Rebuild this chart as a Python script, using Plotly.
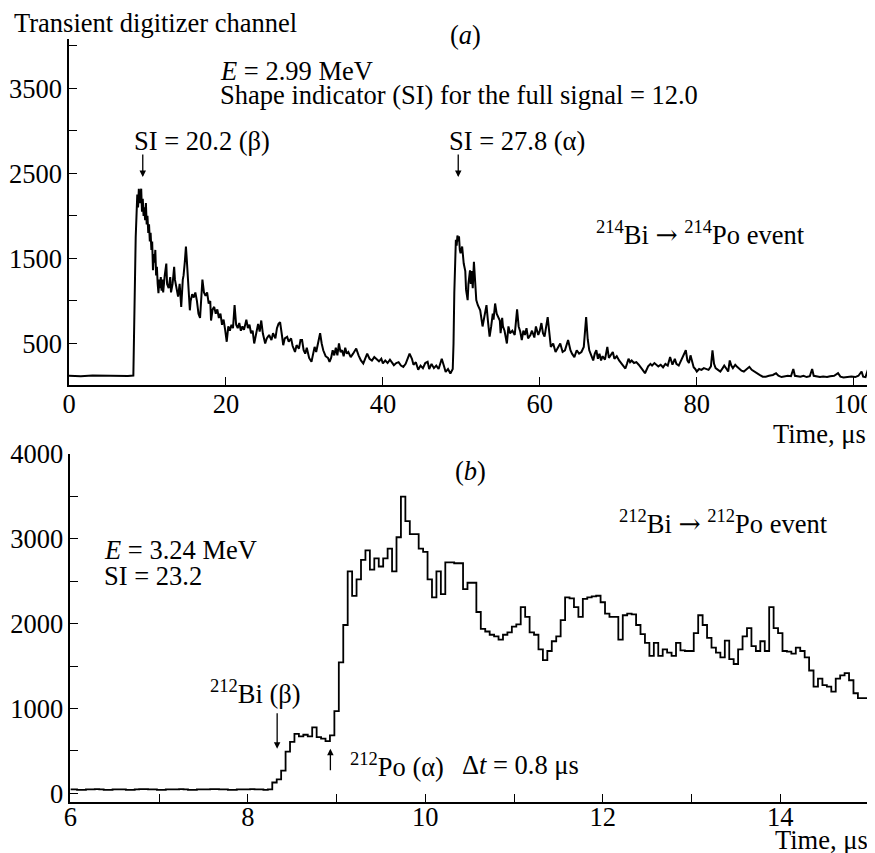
import numpy as np
import plotly.graph_objects as go

# ---------------- Panel (a): 214Bi -> 214Po transient (time in us, channel) ----------------
time_a1 = [0, 1.5, 3, 4.5, 6, 7.5, 8.2,
           8.3, 8.4, 8.5, 8.6, 8.7, 8.8, 8.9, 9.0, 9.1, 9.2,
           9.3, 9.4, 9.5, 9.6, 9.7, 9.8, 9.9, 10.0, 10.1, 10.2,
           10.3, 10.4, 10.5, 10.6, 10.7, 10.8, 10.9, 11.0, 11.1, 11.2,
           11.3, 11.4, 11.5, 11.6, 11.7, 11.8, 11.9, 12.0, 12.2, 12.4,
           12.5, 12.7, 12.9, 13.0, 13.2, 13.4, 13.5, 13.7, 13.9, 14.1,
           14.3, 14.5, 14.6, 14.75, 14.9, 15.0, 15.1, 15.25, 15.4, 15.5,
           15.7, 15.9, 16.1, 16.3, 16.5, 16.7, 16.85, 17.0, 17.2, 17.4,
           17.6, 17.8, 18.0, 18.1, 18.3, 18.5, 18.7, 18.9, 19.1, 19.3,
           19.5, 19.7, 19.9, 20.1, 20.3, 20.5, 20.7, 20.9, 21.1, 21.3,
           21.5, 21.7, 21.9, 22.1, 22.3, 22.6, 22.8, 23.0, 23.2, 23.4,
           23.6, 23.8, 24.1, 24.3, 24.5, 24.7, 25.0, 25.2, 25.5, 25.8,
           26.0, 26.3, 26.5, 26.7, 26.9, 27.1, 27.3, 27.5, 27.8, 28.0,
           28.3, 28.5, 28.8, 29.0, 29.3, 29.5, 29.7, 29.9, 30.1, 30.3,
           30.6, 30.9, 31.1, 31.3, 31.5, 31.8, 32.0, 32.2, 32.4, 32.7,
           33.0, 33.2, 33.4, 33.6, 33.8]
signal_a1 = [120, 115, 122, 118, 120, 117, 122,
             900, 1600, 1750, 2000, 2250, 2100, 2320, 2150, 2250, 2320,
             2050, 2200, 2000, 2100, 1950, 2150, 1900, 2000, 1800, 1900,
             1700, 1800, 1600, 1700, 1360, 1550, 1450, 1600, 1300, 1400,
             1200, 1090, 1250, 1150, 1280, 1120, 1250, 1100, 1300, 1440,
             1200, 1150, 1280, 1100, 1200, 1400, 1250, 1150, 1050, 1200,
             930, 1250, 1300, 1450, 1640, 1500, 1360, 1100, 890, 1000,
             1080, 1040, 1100, 1000, 850, 800, 1000, 1250, 1100, 1060,
             1100, 970, 1000, 770, 900, 930, 850, 900, 800, 850,
             720, 780, 660, 520, 700, 650, 720, 680, 950, 720,
             680, 740, 650, 700, 660, 780, 680, 720, 620, 650,
             500, 600, 730, 640, 770, 620, 500, 560, 600, 540,
             620, 560, 680, 730, 750, 620, 480, 560, 578, 520,
             560, 470, 400, 480, 440, 540, 540, 420, 380, 450,
             330, 285, 360, 460, 400, 520, 620, 500, 420, 350,
             330, 285, 330, 420, 360]

time_a2 = [34.0, 34.2, 34.4, 34.6, 34.8, 35.0, 35.2, 35.4, 35.6, 35.9,
           36.2, 36.6, 36.9, 37.2, 37.5, 37.8, 38.0, 38.3, 38.6, 38.9,
           39.2, 39.5, 39.8, 40.0, 40.3, 40.6, 40.9, 41.1, 41.4, 41.7,
           42.0, 42.3, 42.6, 42.9, 43.1, 43.4, 43.7, 43.9, 44.2, 44.5,
           44.8, 45.1, 45.4, 45.7, 45.9, 46.2, 46.5, 46.8, 47.1, 47.5,
           47.8, 48.0, 48.3, 48.6, 48.9, 49.0, 49.1, 49.2, 49.3, 49.4,
           49.5, 49.6, 49.7, 49.8, 49.9, 50.1, 50.3, 50.5, 50.6, 50.8,
           50.9, 51.1, 51.2, 51.3, 51.45, 51.6, 51.8, 51.9, 52.1, 52.4,
           52.7, 52.9, 53.1, 53.2, 53.4, 53.6, 53.8, 54.0, 54.1, 54.3,
           54.5, 54.7, 54.9, 55.0, 55.2, 55.3, 55.5, 55.8, 56.0, 56.2,
           56.5, 56.8, 57.1, 57.3, 57.5, 57.7, 57.9, 58.1, 58.3, 58.5,
           58.8, 59.0, 59.3, 59.5, 59.8, 60.0, 60.2, 60.4, 60.6, 61.0,
           61.2, 61.4, 61.7, 62.0, 62.3, 62.6, 62.9, 63.2, 63.6, 63.9,
           64.1, 64.4, 64.7, 65.0, 65.3, 65.6, 65.9, 66.1, 66.3, 66.5,
           66.8, 67.0]
signal_a2 = [450, 360, 500, 400, 420, 350, 450, 380, 400, 340,
             380, 440, 360, 300, 265, 350, 380, 320, 300, 340,
             310, 290, 320, 265, 300, 270, 310, 280, 245, 270,
             280, 240, 225, 260, 300, 380, 320, 250, 280, 190,
             240, 210, 270, 285, 200, 260, 210, 240, 200, 320,
             230, 165, 200, 147, 200, 500, 1100, 1500, 1720, 1650,
             1770, 1700, 1760, 1600, 1560, 1640, 1440, 1350, 1130, 1010,
             1200, 1360, 1200, 1350, 1150, 1460, 1200, 1010, 950, 890,
             700, 820, 930, 950, 750, 580, 700, 850, 780, 970,
             850, 810, 770, 620, 800, 700, 650, 500, 700, 620,
             650, 600, 900, 700, 640, 540, 650, 600, 680, 560,
             600, 650, 570, 700, 600, 650, 740, 620, 580, 810,
             600, 460, 500, 400, 450, 500, 400, 420, 540, 420,
             380, 340, 420, 380, 400, 460, 810, 550, 420, 380,
             300, 380]

time_a3 = [67.2, 67.4, 67.6, 67.8, 68.0, 68.3, 68.6, 68.8, 69.0, 69.3,
           69.5, 69.8, 70.1, 70.4, 70.7, 70.9, 71.1, 71.3, 71.5, 71.7,
           72.0, 72.3, 72.6, 72.9, 73.1, 73.4, 73.6, 73.8, 74.1, 74.3,
           74.6, 74.9, 75.1, 75.4, 75.7, 76.0, 76.3, 76.6, 76.8, 76.9,
           77.2, 77.4, 77.7, 78.0, 78.3, 78.6, 78.8, 79.0, 79.2, 79.4,
           79.6, 79.8, 80.0, 80.3, 80.6, 80.9, 81.2, 81.5, 81.8, 82.0,
           82.2, 82.4, 82.7, 83.0, 83.3, 83.5, 83.8, 84.0, 84.2, 84.4,
           84.6, 84.9, 85.1, 85.4, 85.7, 86.0, 86.4, 86.7, 87.0, 87.3,
           87.7, 88.0, 88.4, 88.8, 89.2, 89.7, 90.1, 90.4, 90.8, 91.2,
           91.6, 92.0, 92.3, 92.5, 92.8, 93.2, 93.6, 94.0, 94.4, 94.7,
           94.9, 95.3, 95.7, 96.1, 96.6, 97.0, 97.5, 98.0, 98.3, 98.7,
           99.2, 99.7, 100.2, 100.6, 101.0, 101.2, 101.5, 101.8, 102.0, 102.2]
signal_a3 = [420, 320, 380, 300, 350, 310, 460, 330, 360, 400,
             320, 350, 300, 265, 230, 205, 260, 320, 280, 300,
             270, 280, 250, 220, 190, 150, 200, 230, 260, 240,
             270, 250, 230, 250, 220, 260, 240, 340, 280, 250,
             320, 260, 240, 300, 360, 420, 300, 270, 360, 300,
             220, 200, 170, 200, 190, 210, 200, 190, 230, 420,
             260, 210, 190, 170, 210, 240, 200, 170, 300, 240,
             210, 250, 230, 200, 180, 170, 200, 225, 190, 170,
             150, 130, 110, 110, 120, 130, 150, 120, 105, 110,
             120, 115, 200, 120, 115, 110, 120, 105, 115, 200,
             120, 110, 105, 110, 105, 115, 120, 150, 110, 100,
             105, 110, 105, 120, 170, 110, 105, 190, 130, 120]

# ---------------- Panel (b): 212Bi -> 212Po, 0.05 us bins from 6.00 to 15.00 ----------------
bin_start_b = 6.0
bin_width_b = 0.05
counts_b = [45, 45, 40, 40, 45, 45, 50, 45, 40, 40,
            45, 45, 45, 40, 40, 45, 50, 50, 45, 45,
            40, 40, 45, 45, 45, 50, 45, 40, 40, 45,
            45, 45, 50, 50, 45, 45, 40, 40, 45, 45,
            45, 50, 45, 45, 40, 45,
            127, 165, 268, 491, 606, 701, 670, 690, 670, 778,
            663, 644, 614, 682, 970, 1545, 1985, 2617, 2328, 2522,
            2752, 2866, 2637, 2770, 2675, 2770, 2885, 2617, 3020, 3499,
            3211, 3057, 3057, 2885, 2847, 2522, 2310, 2617, 2349, 2724,
            2724, 2713, 2713, 2407, 2483, 2483, 2138, 1939, 1908, 1870,
            1851, 1813, 1870, 1897, 1966, 1993, 2195, 2080, 1897, 1870,
            1698, 1571, 1678, 1793, 1851, 2042, 2310, 2299, 2195, 2080,
            2292, 2310, 2322, 2330, 2253, 2119, 2080, 2080, 1813, 2100,
            2119, 2110, 1985, 1878, 1774, 1621, 1774, 1621, 1698, 1659,
            1621, 1774, 1686, 1678, 1678, 1889, 2100, 1985, 1832, 1717,
            1659, 1602, 1801, 1583, 1525, 1698, 1851, 1947, 1736, 1678,
            1793, 1678, 2195, 1947, 1889, 1678, 1671, 1648, 1717, 1678,
            1602, 1448, 1257, 1353, 1276, 1257, 1200, 1353, 1391, 1418,
            1333, 1180, 1123, 1123, 1123]

time_a = time_a1 + time_a2 + time_a3
signal_a = signal_a1 + signal_a2 + signal_a3
assert len(time_a) == len(signal_a)
centers_b = np.round(bin_start_b + bin_width_b * np.arange(len(counts_b)), 3)

# ---------------- geometry (page pixels; the page body has an 8px margin) ----------------
PAGE_W, PAGE_H = 875, 853
OFF = 8
FIG_W, FIG_H = PAGE_W - OFF, PAGE_H - OFF
X0, X1 = 69, 871          # plot-area left/right in page pixels
Y0, Y1 = 39, 801.7        # plot-area top/bottom in page pixels
PW = X1 - X0
PH = Y1 - Y0


def px(x):
    return (x - X0) / PW


def py(y):
    return (Y1 - y) / PH


FONT = "Liberation Serif, Times New Roman, serif"
FS = 26.5
ARROW = '<span style="font-family:DejaVu Serif">→</span>'

fig = go.Figure()
fig.add_trace(go.Scatter(x=time_a, y=signal_a, mode="lines",
                         line=dict(color="black", width=2.0),
                         xaxis="x", yaxis="y", showlegend=False))
fig.add_trace(go.Scatter(x=centers_b, y=counts_b, mode="lines",
                         line=dict(color="black", width=1.8, shape="hvh"),
                         xaxis="x2", yaxis="y2", showlegend=False))

axis_common = dict(showline=True, linecolor="black", linewidth=1.5,
                   ticks="inside", ticklen=8, tickwidth=1.3, tickcolor="black",
                   showgrid=False, zeroline=False, automargin=False,
                   tickfont=dict(family=FONT, size=FS, color="black"))

ya_vals = [500, 1000, 1500, 2000, 2500, 3000, 3500, 4000]
ya_text = ["500", "", "1500", "", "2500", "", "3500", ""]
yb_vals = [0, 500, 1000, 1500, 2000, 2500, 3000, 3500, 4000]
yb_text = ["0", "", "1000", "", "2000", "", "3000", "", "4000"]
xa_vals = [0, 20, 40, 60, 80, 100]
xb_vals = [6, 7, 8, 9, 10, 11, 12, 13, 14, 15]
xb_text = ["6", "", "8", "", "10", "", "12", "", "14", ""]

fig.update_layout(
    width=FIG_W, height=FIG_H,
    margin=dict(l=X0 - OFF, r=PAGE_W - X1, t=Y0 - OFF, b=FIG_H - (Y1 - OFF),
                autoexpand=False),
    paper_bgcolor="white", plot_bgcolor="white",
    font=dict(family=FONT, size=FS, color="black"),
    xaxis=dict(domain=[0, 1], range=[0, 102.2], anchor="y",
               tickvals=xa_vals, ticklabelstandoff=-6, **axis_common),
    yaxis=dict(domain=[py(385), 1], range=[10, 4080], anchor="x",
               tickvals=ya_vals, ticktext=ya_text, **axis_common),
    xaxis2=dict(domain=[px(70.4), px(869)], range=[6, 15.0], anchor="y2",
                tickvals=xb_vals, ticktext=xb_text, ticklabelstandoff=-10, **axis_common),
    yaxis2=dict(domain=[0, py(454)], range=[-103, 4000], anchor="x2",
                tickvals=yb_vals, ticktext=yb_text, **axis_common),
)

texts = [
    ("Transient digitizer channel", 12, 23, "left"),
    ("(<i>a</i>)", 465, 35, "center"),
    ("<i>E</i> = 2.99 MeV", 218, 71, "left"),
    ("Shape indicator (SI) for the full signal = 12.0", 218, 95, "left"),
    ("SI = 20.2 (β)", 132, 141, "left"),
    ("SI = 27.8 (α)", 447, 141, "left"),
    ("<sup>214</sup>Bi " + ARROW + " <sup>214</sup>Po event", 807, 233, "right"),
    ("Time, μs", 868, 434, "right"),
    ("(<i>b</i>)", 470, 471, "center"),
    ("<sup>212</sup>Bi " + ARROW + " <sup>212</sup>Po event", 830, 522, "right"),
    ("<i>E</i> = 3.24 MeV", 102, 550, "left"),
    ("SI = 23.2", 102, 576, "left"),
    ("<sup>212</sup>Bi (β)", 303, 692, "right"),
    ("<sup>212</sup>Po (α)", 348, 765, "left"),
    ("Δ<i>t</i> = 0.8 μs", 460, 765, "left"),
    ("Time, μs", 870, 840, "right"),
]
for t, x, y, anc in texts:
    fig.add_annotation(text=t, xref="paper", yref="paper", x=px(x), y=py(y),
                       xanchor=anc, yanchor="middle", showarrow=False,
                       font=dict(family=FONT, size=FS, color="black"))

arrow_style = dict(showarrow=True, arrowhead=2, arrowsize=1, arrowwidth=1.3,
                   arrowcolor="black", text="")
# panel (a) arrows (tips in data units)
fig.add_annotation(x=9.4, y=2456, xref="x", yref="y", ax=0, ay=-24, **arrow_style)
fig.add_annotation(x=49.6, y=2456, xref="x", yref="y", ax=0, ay=-24, **arrow_style)
# panel (b) arrows
fig.add_annotation(x=8.33, y=525, xref="x2", yref="y2", ax=0, ay=-37, **arrow_style)
fig.add_annotation(x=8.93, y=525, xref="x2", yref="y2", ax=0, ay=23, **arrow_style)

fig.write_html("out.html")
